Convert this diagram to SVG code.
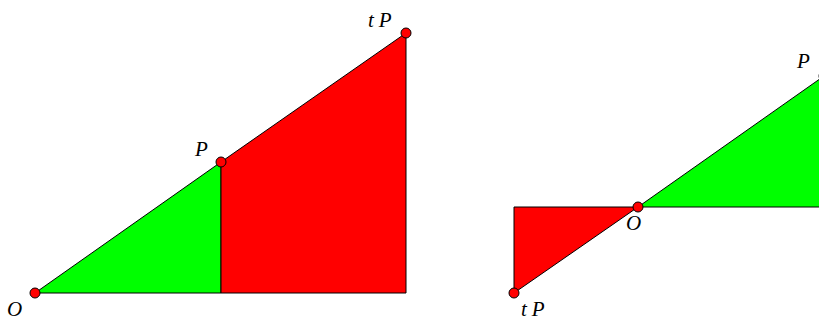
<svg xmlns="http://www.w3.org/2000/svg" width="819" height="320" viewBox="0 0 819 320">
<style>
.g{fill:#00ff00;stroke:#000;stroke-width:1}
.r{fill:#ff0000;stroke:#000;stroke-width:1}
.pt{fill:#ff0000;stroke:#000;stroke-width:1}
.lb{font-family:"Liberation Serif",serif;font-style:italic;font-size:21px;fill:#000}
</style>
<rect width="819" height="320" fill="#fff"/>
<g id="left-figure">
<polygon class="g" points="35,293 221,162 221,293"/>
<polygon class="r" points="221,162 406,33 406,293 221,293"/>
</g>
<g id="right-figure">
<polygon class="r" points="514,207 638,207 514,293"/>
<polygon class="g" points="638,207 824,76 824,207"/>
</g>
<g id="points">
<circle class="pt" cx="35" cy="293" r="5"/>
<circle class="pt" cx="221" cy="162" r="5"/>
<circle class="pt" cx="406" cy="33" r="5"/>
<circle class="pt" cx="638" cy="207" r="5"/>
<circle class="pt" cx="514" cy="293" r="5"/>
<circle class="pt" cx="824" cy="76" r="5"/>
</g>
<g id="labels">
<text class="lb" x="7" y="316">O</text>
<text class="lb" x="195" y="156">P</text>
<text class="lb" x="368" y="27">t<tspan dx="5">P</tspan></text>
<text class="lb" x="626" y="230">O</text>
<text class="lb" x="521" y="316">t<tspan dx="5">P</tspan></text>
<text class="lb" x="797" y="68">P</text>
</g>
</svg>
